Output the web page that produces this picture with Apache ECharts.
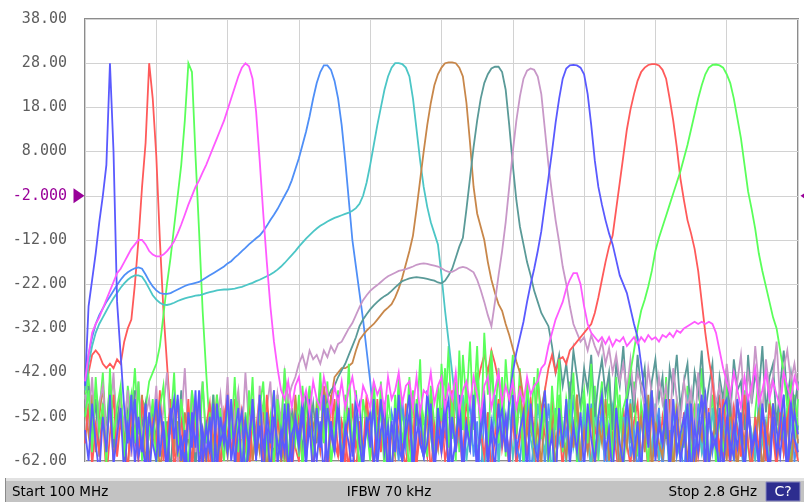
<!DOCTYPE html>
<html><head><meta charset="utf-8">
<script src="https://cdn.jsdelivr.net/npm/echarts@6/dist/echarts.min.js"></script>
<style>html,body{margin:0;padding:0;background:#fff}#c{width:804px;height:502px}</style>
</head><body><div id="c"></div>
<script>
const startMHz = 100, stopMHz = 2800, nPoints = 201;
const yMin = -62, yMax = 38, yStep = 10;
const refLevel = -2;
const statusTexts = { start: 'Start 100 MHz', ifbw: 'IFBW 70 kHz', stop: 'Stop 2.8 GHz', ch: 'C?' };
const traceColors = ['#5a5aff','#ff5a5a','#5aff5a','#ff5aff','#4f8ff7','#4cc6c6','#c8874a','#5a9a98','#c898c8','#5a5aff','#ff5a5a','#5aff5a'];
const traceLayer = [3,2,2,4,2,2,2,2,2,3,2,2];

const t1 = [
-45,-27,-21,-15,-8,-2,5,28,8,-26,-38,-50,-58,-47,-63,-52,-60,-49,-66,-55,
-48,-61,-53,-64,-50,-57,-47,-62,-55,-68,-51,-59,-46,-63,-54,-60,-49,-65,-52,-58,
-47,-62,-56,-50,-65,-53,-59,-48,-61,-54,-67,-51,-58,-46,-63,-55,-60,-49,-64,-52,
-57,-48,-62,-54,-66,-50,-59,-47,-63,-53,-60,-49,-65,-56,-51,-61,-47,-58,-64,-52,
-59,-48,-63,-55,-50,-66,-53,-60,-47,-62,-56,-51,-64,-49,-58,-61,-46,-55,-63,-50,
-57,-48,-65,-52,-60,-47,-62,-54,-59,-50,-66,-53,-48,-61,-56,-64,-49,-58,-52,-63,
-47,-60,-55,-51,-65,-49,-58,-62,-53,-46,-61,-56,-67,-50,-59,-48,-63,-54,-60,-51,
-64,-49,-57,-62,-52,-47,-60,-55,-66,-50,-58,-63,-48,-56,-61,-53,-65,-49,-59,-46,
-62,-54,-58,-50,-64,-48,-60,-56,-52,-67,-49,-61,-55,-47,-63,-51,-59,-57,-65,-50,
-48,-62,-54,-59,-51,-66,-47,-60,-56,-63,-50,-58,-64,-49,-55,-61,-52,-67,-48,-57,
-60];
const t2 = [
-46,-42,-38,-37,-38,-40,-41,-40,-41,-39,-40,-35,-32,-30,-22,-12,0,10,28,20,
7,-12,-28,-40,-52,-61,-48,-57,-64,-50,-55,-62,-47,-59,-53,-66,-49,-58,-63,-51,
-56,-60,-48,-65,-53,-58,-50,-62,-55,-47,-61,-57,-64,-52,-49,-60,-54,-66,-50,-59,
-62,-51,-56,-48,-63,-55,-60,-52,-65,-47,-58,-61,-53,-57,-64,-49,-59,-55,-62,-50,
-56,-63,-48,-60,-53,-58,-66,-51,-55,-62,-49,-59,-54,-64,-50,-57,-61,-47,-58,-52,
-60,-55,-63,-49,-57,-52,-61,-48,-56,-50,-45,-41,-38,-42,-37,-40,-44,-48,-55,-60,
-52,-63,-57,-49,-61,-54,-59,-66,-51,-56,-62,-48,-58,-53,-64,-50,-60,-55,-47,-62,
-57,-51,-65,-54,-59,-48,-62,-56,-52,-60,-67,-50,-58,-63,-53,-49,-61,-55,-64,-50,
-58,-62,-52,-57,-48,-65,-54,-60,-51,-63,-56,-49,-61,-55,-66,-50,-59,-53,-47,-62,
-55,-60,-50,-64,-53,-58,-48,-62,-56,-51,-65,-54,-59,-49,-61,-57,-52,-63,-50,-58,
-54];
const t3 = [
-48,-43,-55,-46,-51,-42,-57,-47,-44,-53,-49,-58,-45,-52,-41,-56,-48,-50,-44,-42,
-40,-36,-29,-22,-16,-9,-2,5,15,28,26,7,-10,-28,-42,-55,-47,-62,-50,-58,
-45,-60,-53,-48,-64,-51,-57,-43,-61,-54,-49,-66,-52,-46,-59,-55,-63,-47,-58,-50,
-61,-45,-56,-52,-64,-48,-59,-54,-44,-62,-57,-50,-65,-47,-53,-60,-46,-58,-63,-51,
-55,-49,-62,-44,-58,-53,-66,-47,-60,-51,-56,-43,-63,-48,-57,-52,-61,-45,-54,-59,
-40,-52,-36,-57,-44,-60,-38,-49,-35,-55,-42,-58,-33,-47,-37,-53,-41,-59,-39,-50,
-45,-56,-41,-61,-48,-54,-43,-62,-50,-46,-58,-52,-64,-47,-55,-60,-44,-57,-51,-63,
-48,-59,-53,-45,-62,-50,-56,-42,-60,-54,-47,-65,-52,-58,-44,-61,-49,-55,-63,-46,
-57,-51,-60,-43,-55,-64,-48,-53,-59,-45,-62,-50,-56,-41,-58,-54,-47,-63,-52,-60,
-44,-57,-61,-49,-54,-46,-59,-65,-51,-43,-56,-60,-48,-53,-62,-45,-58,-50,-64,-47,
-55];
const t4 = [
-44,-38,-33,-31,-29.5,-27.5,-25.5,-23.5,-21.5,-19.5,-18.5,-17,-15.5,-14,-13,-12,-12,-13,-14.5,-15.3,
-15.7,-15.7,-15.3,-14.5,-13.5,-12.3,-10.5,-8.5,-6.3,-4,-2,0,1.5,3.3,5,7,9,11,13,15,
17.5,20,22.5,25,27,28,27.3,24.5,17,6,-6,-17,-27,-35,-41,-46,-48,-44,-50,-45,
-43,-49,-46,-51,-44,-48,-50,-43,-47,-51,-45,-49,-44,-50,-46,-43,-48,-51,-45,-47,
-50,-44,-47,-45,-51,-43,-48,-46,-42,-49,-45,-44,-50,-43,-51,-46,-47,-42,-49,-45,
-43,-50,-45,-48,-42,-51,-46,-44,-49,-43,-47,-52,-45,-43,-50,-46,-42,-49,-45,-48,
-44,-50,-46,-49,-43,-47,-45,-44,-41,-40,-36,-33,-30,-28,-26,-23,-21,-19.5,-19.5,-22,
-27,-31,-33,-34,-35,-34,-35.5,-34,-36,-34.5,-35,-34,-36,-35,-34,-35.5,-34,-35,-33.5,-34.5,
-34,-35,-33.5,-34,-33,-34,-32.5,-33,-32,-31.5,-31,-30.5,-31,-30.5,-31,-30.5,-31,-33,-37,-41,
-44,-47,-42,-46,-50,-43,-48,-45,-41,-49,-46,-42,-48,-44,-47,-50,-42,-45,-48,-43,
-46];
const t5 = [
-44,-38,-34,-31,-29,-27.5,-26,-24.8,-23.5,-22.2,-21,-20,-19.3,-18.8,-18.4,-18.2,-18.5,-19.8,-21.3,-22.5,
-23.4,-24,-24.2,-24.2,-24,-23.6,-23.2,-22.8,-22.4,-22.1,-21.9,-21.7,-21.5,-21,-20.5,-20,-19.5,-19,-18.5,-18,
-17.3,-16.8,-16,-15.3,-14.5,-13.8,-13,-12.3,-11.6,-11,-10,-8.8,-7.5,-6.3,-5,-3.5,-2,-0.5,1.5,4,
6.5,9.5,12.5,16,20,23.5,26,27.5,27.5,26.5,24,20,14,6,-3,-12,-18,-24,-30,-37,
-44,-52,-60,-49,-57,-64,-51,-55,-62,-48,-59,-53,-66,-50,-58,-61,-47,-56,-63,-52,
-59,-49,-65,-54,-58,-50,-62,-56,-48,-61,-53,-67,-51,-57,-63,-49,-60,-55,-52,-64,
-50,-58,-62,-53,-48,-66,-56,-60,-51,-63,-49,-57,-64,-52,-59,-55,-61,-47,-58,-65,
-53,-60,-49,-62,-56,-51,-67,-54,-58,-50,-63,-57,-48,-61,-55,-65,-52,-59,-49,-62,
-56,-50,-64,-53,-59,-48,-61,-57,-66,-52,-55,-62,-49,-58,-63,-51,-60,-54,-65,-50,
-59,-53,-62,-48,-57,-64,-51,-56,-61,-49,-66,-54,-58,-52,-63,-50,-60,-55,-47,-62,
-57];
const t6 = [
-46,-40,-36,-33,-31,-29.5,-28,-26.5,-25.2,-24,-22.8,-21.8,-21,-20.4,-20,-20,-20.3,-21.5,-23,-24.5,
-25.5,-26.2,-26.6,-26.7,-26.5,-26.2,-25.8,-25.5,-25.2,-25,-24.8,-24.6,-24.5,-24.3,-24,-23.8,-23.6,-23.4,-23.3,-23.2,
-23.2,-23.1,-23,-22.8,-22.6,-22.3,-22,-21.7,-21.3,-21,-20.6,-20.2,-19.8,-19.3,-18.7,-18,-17.2,-16.3,-15.4,-14.5,
-13.5,-12.6,-11.7,-10.9,-10.1,-9.4,-8.8,-8.3,-7.8,-7.4,-7,-6.7,-6.4,-6.1,-5.8,-5.4,-4.8,-3.8,-2,1,
5,9.5,14,18,22,25,27,28,28,27.8,27,25,20,13,6,0,-4.5,-8,-10.5,-13,
-20,-28,-35,-42,-50,-58,-47,-62,-54,-49,-60,-56,-65,-51,-58,-47,-63,-53,-59,-50,
-61,-55,-48,-64,-52,-57,-62,-49,-56,-60,-53,-66,-50,-58,-54,-63,-47,-59,-55,-61,
-51,-57,-64,-49,-60,-54,-58,-62,-50,-56,-65,-52,-59,-48,-61,-55,-63,-51,-57,-60,
-49,-62,-56,-53,-66,-50,-58,-61,-54,-47,-63,-57,-52,-60,-55,-64,-50,-58,-62,-53,
-57,-49,-61,-54,-59,-65,-51,-56,-62,-48,-58,-53,-64,-50,-60,-55,-47,-63,-52,-58,
-54];
const t7 = [
-50,-56,-47,-60,-52,-45,-58,-49,-62,-53,-48,-57,-64,-51,-55,-60,-47,-63,-54,-58,
-50,-65,-56,-61,-48,-59,-53,-66,-51,-57,-62,-49,-60,-55,-64,-52,-58,-47,-63,-56,
-61,-50,-57,-65,-53,-59,-48,-62,-55,-60,-51,-66,-54,-58,-49,-63,-56,-52,-61,-47,
-57,-53,-60,-46,-55,-50,-58,-45,-52,-48,-43,-42,-41,-41,-40.5,-39.8,-37,-34.6,-33.5,-32.5,
-31.7,-31,-30,-29,-28,-27.3,-26.5,-25,-23,-20.5,-17.5,-14.5,-11,-5,1.5,8,14,19,23,25.5,
27,28,28.2,28.2,28,27,25,19,10,0,-6,-9,-12,-17,-21,-24,-26.5,-28,-31,-33.5,
-36.5,-39.5,-42,-48,-56,-51,-60,-54,-63,-49,-58,-53,-65,-50,-57,-61,-52,-59,-47,-62,
-55,-60,-50,-64,-53,-58,-48,-62,-56,-51,-66,-54,-59,-49,-63,-57,-52,-60,-47,-65,
-53,-58,-61,-50,-56,-64,-49,-59,-55,-62,-51,-67,-54,-57,-48,-63,-58,-52,-60,-55,
-62,-50,-57,-64,-53,-59,-48,-61,-56,-51,-65,-54,-58,-49,-63,-55,-60,-52,-66,-50,
-58];
const t8 = [
-52,-45,-58,-48,-61,-50,-55,-44,-59,-53,-47,-62,-51,-56,-46,-60,-54,-49,-63,-52,
-57,-48,-61,-53,-65,-50,-58,-46,-62,-55,-51,-64,-49,-59,-54,-60,-47,-63,-56,-52,
-60,-49,-57,-64,-51,-55,-62,-48,-58,-53,-66,-50,-56,-61,-47,-59,-54,-63,-50,-57,
-52,-60,-47,-55,-49,-58,-44,-53,-48,-46,-45,-43,-41.5,-40,-38,-36,-34,-31.5,-30,-28.8,
-27.7,-26.8,-26,-25.3,-24.7,-24.2,-23.5,-22.7,-22,-21.3,-21,-20.7,-20.5,-20.4,-20.5,-20.6,-20.8,-21,-21.2,-21.6,
-21.8,-21.2,-20,-18.5,-16,-13.5,-11.5,-5,2,9,15,20,23.5,25.5,26.8,27.2,27.2,26,22,14,
5,-3,-9,-13,-17,-20,-23.5,-26,-28.5,-30,-31.5,-36,-42,-38,-45,-40,-48,-37,-43,-50,
-41,-46,-38,-52,-44,-39,-47,-42,-55,-40,-45,-36,-49,-43,-51,-38,-46,-41,-54,-44,
-39,-48,-43,-57,-41,-46,-38,-50,-44,-40,-53,-42,-47,-37,-51,-45,-40,-56,-43,-48,
-41,-52,-39,-46,-44,-55,-38,-49,-42,-47,-36,-51,-43,-40,-54,-45,-37,-48,-42,-50,
-44];
const t9 = [
-47,-53,-43,-58,-49,-45,-56,-51,-42,-60,-48,-54,-46,-61,-50,-44,-57,-52,-48,-55,
-45,-59,-50,-42,-56,-48,-63,-53,-41,-57,-46,-60,-51,-44,-58,-49,-62,-54,-47,-55,
-43,-60,-51,-46,-57,-42,-54,-49,-61,-45,-56,-50,-44,-59,-47,-53,-42,-48,-45,-43,
-40,-38,-41,-37,-39,-38,-40,-37,-38.5,-36,-37.5,-35.5,-35,-33.5,-32,-30.8,-29,-27.2,-25.6,-24.5,
-23.5,-22.8,-22.2,-21.5,-20.8,-20.2,-19.8,-19.4,-19,-18.8,-18.6,-18.3,-18,-17.6,-17.4,-17.3,-17.4,-17.6,-17.8,-18,
-18.4,-18.9,-19.2,-19.2,-18.8,-18.3,-18.1,-18.3,-18.8,-19.3,-21,-23.3,-26,-29,-31.5,-26,-20,-14.5,-8,0,
8,15,20.5,24.5,26.3,26.8,26.5,25,21,13,5,-1.5,-7.5,-12.5,-18,-22,-27,-31,-33,-35,
-34,-37,-33.5,-36,-38,-35,-40,-36.5,-42,-38,-44,-40,-46,-39,-48,-42,-45,-50,-41,-47,
-52,-43,-49,-45,-55,-41,-48,-53,-44,-50,-46,-57,-42,-51,-47,-54,-43,-49,-45,-52,
-40,-47,-53,-44,-38,-50,-42,-48,-36,-45,-51,-39,-46,-43,-35,-49,-41,-37,-44,-40,
-46];
const t10 = [
-55,-62,-49,-58,-65,-52,-60,-47,-63,-56,-50,-66,-54,-59,-48,-61,-57,-64,-51,-58,
-62,-50,-56,-65,-53,-48,-60,-57,-63,-51,-59,-46,-64,-55,-61,-52,-67,-49,-58,-54,
-60,-48,-63,-55,-51,-66,-57,-50,-62,-47,-59,-54,-65,-52,-58,-61,-49,-64,-56,-53,
-59,-51,-64,-48,-57,-62,-53,-66,-50,-56,-60,-47,-63,-54,-58,-65,-52,-49,-61,-55,
-51,-63,-57,-48,-60,-54,-66,-50,-59,-62,-53,-47,-64,-56,-52,-61,-58,-49,-65,-55,
-60,-52,-48,-63,-57,-51,-66,-54,-59,-47,-62,-56,-50,-64,-53,-58,-55,-50,-60,-48,
-42,-37.5,-34,-30.5,-26,-22,-18.5,-14.5,-10,-4,2,8,14.5,20,24.5,26.8,27.5,27.6,27.5,27,
25.5,21,14,6,0,-4,-7.5,-10.5,-13,-16.5,-20,-22,-24,-27.5,-31,-34,-40,-47,-55,-50,
-61,-53,-58,-48,-64,-55,-51,-62,-57,-49,-66,-54,-60,-52,-47,-63,-56,-59,-50,-65,
-53,-58,-61,-48,-56,-64,-51,-59,-55,-62,-49,-57,-66,-52,-60,-54,-47,-63,-58,-51,
-56];
const t11 = [
-58,-49,-63,-54,-60,-51,-66,-56,-47,-61,-53,-59,-64,-50,-57,-62,-48,-55,-65,-52,
-59,-46,-62,-55,-50,-64,-57,-53,-60,-48,-66,-51,-58,-63,-54,-49,-61,-56,-65,-52,
-48,-60,-55,-63,-51,-57,-66,-50,-59,-54,-62,-47,-58,-64,-53,-56,-61,-49,-65,-55,
-52,-62,-57,-49,-64,-54,-59,-51,-66,-56,-48,-61,-55,-63,-50,-58,-65,-53,-60,-47,
-57,-63,-52,-59,-49,-66,-55,-61,-50,-58,-64,-53,-47,-62,-56,-60,-51,-65,-54,-59,
-50,-62,-57,-46,-60,-54,-65,-52,-58,-49,-63,-55,-61,-51,-66,-56,-48,-59,-53,-64,
-50,-57,-45,-60,-53,-48,-56,-44,-51,-46,-41,-38,-42,-39,-38.5,-40,-37,-36,-35,-34,
-33,-32,-31,-28.5,-25,-21,-17,-13.5,-11,-5,1,7,13,17.5,21,24,26,27,27.6,27.8,
27.8,27.5,26.5,24.5,20,15,9,2,-3,-7.5,-10.5,-14,-19,-26,-33,-39,-44,-52,-60,-48,
-57,-63,-50,-55,-61,-47,-58,-65,-52,-59,-54,-62,-49,-56,-64,-51,-60,-53,-45,-58,
-62];
const t12 = [
-52,-46,-60,-43,-55,-49,-63,-41,-57,-50,-45,-61,-53,-47,-58,-44,-62,-51,-56,-48,
-64,-50,-45,-59,-54,-42,-61,-48,-56,-63,-46,-53,-60,-44,-58,-51,-65,-47,-55,-62,
-49,-57,-43,-60,-52,-66,-46,-55,-61,-50,-44,-59,-54,-63,-48,-56,-41,-62,-53,-58,
-47,-64,-51,-45,-60,-55,-42,-58,-49,-63,-53,-46,-61,-56,-40,-59,-52,-65,-48,-54,
-62,-44,-57,-50,-64,-47,-55,-60,-43,-58,-52,-66,-46,-54,-39,-61,-49,-56,-63,-45,
-53,-41,-59,-48,-62,-37,-55,-44,-60,-50,-36,-57,-46,-63,-40,-52,-58,-43,-61,-49,
-38,-56,-47,-62,-44,-53,-59,-41,-57,-50,-64,-45,-55,-39,-60,-48,-54,-42,-63,-51,
-46,-58,-40,-61,-52,-44,-57,-49,-63,-43,-55,-50,-47,-42,-37,-32,-28,-25.5,-22.5,-19,
-14.5,-11.5,-9,-6.5,-4,-1.5,1,3.5,6.5,9.5,13,16.5,20,23,25.5,27,27.6,27.7,27.5,27,
25.5,23.5,20,15.5,11,5,-1,-5,-9.5,-15,-19,-22.5,-26,-29.5,-32,-37,-42,-50,-45,-57,
-48];

const traces = [t1,t2,t3,t4,t5,t6,t7,t8,t9,t10,t11,t12];
const freqAt = i => startMHz + (stopMHz - startMHz) * i / (nPoints - 1);

const chart = echarts.init(document.getElementById('c'), null, {renderer: 'canvas'});
const markerColor = '#990099';

const series = traces.map((arr, k) => ({
  type: 'line',
  data: arr.map((v, i) => [freqAt(i), v]),
  showSymbol: false,
  symbol: 'none',
  clip: true,
  silent: true,
  animation: false,
  lineStyle: { width: 1.8, color: traceColors[k], join: 'miter', cap: 'butt' },
  itemStyle: { color: traceColors[k] },
  emphasis: { disabled: true },
  z: traceLayer[k]
}));
series[0].markPoint = {
  silent: true,
  animation: false,
  label: { show: false },
  itemStyle: { color: markerColor },
  data: [
    { coord: [startMHz, refLevel], symbol: 'triangle', symbolSize: [15, 11], symbolRotate: -90, symbolOffset: [-6, 0] },
    { coord: [stopMHz, refLevel], symbol: 'triangle', symbolSize: [15, 11], symbolRotate: 90, symbolOffset: [8, 0] }
  ]
};

const barFont = '13.5px "DejaVu Sans"';
chart.setOption({
  animation: false,
  backgroundColor: '#ffffff',
  grid: { left: 85, top: 19, right: 6, bottom: 41, show: true, borderColor: '#8c8c8c', borderWidth: 2, backgroundColor: 'transparent' },
  xAxis: {
    type: 'value', min: startMHz, max: stopMHz, interval: (stopMHz - startMHz) / 10,
    axisLabel: { show: false }, axisLine: { show: false }, axisTick: { show: false },
    splitLine: { show: true, lineStyle: { color: '#d2d2d2', width: 1 } }
  },
  yAxis: {
    type: 'value', min: yMin, max: yMax, interval: yStep,
    axisLine: { show: false }, axisTick: { show: false },
    splitLine: { show: true, lineStyle: { color: '#d2d2d2', width: 1 } },
    axisLabel: {
      margin: 18, color: '#5e5e5e', fontFamily: '"DejaVu Sans Mono"', fontSize: 15,
      formatter: v => {
        const s = Number(v).toPrecision(4);
        return v === refLevel ? '{p|' + s + '}' : s;
      },
      rich: { p: { color: markerColor, fontFamily: '"DejaVu Sans Mono"', fontSize: 15 } }
    }
  },
  series: series,
  graphic: [
    { type: 'rect', shape: { x: 5, y: 478, width: 799, height: 24 }, style: { fill: '#c3c3c3' }, z: 10 },
    { type: 'rect', shape: { x: 5, y: 478, width: 799, height: 3 }, style: { fill: '#e2e2e2' }, z: 11 },
    { type: 'rect', shape: { x: 5, y: 478, width: 1, height: 24 }, style: { fill: '#8a8a8a' }, z: 11 },
    { type: 'text', x: 12, y: 492, style: { text: statusTexts.start, font: barFont, fill: '#000', align: 'left', verticalAlign: 'middle' }, z: 12 },
    { type: 'text', x: 389, y: 492, style: { text: statusTexts.ifbw, font: barFont, fill: '#000', align: 'center', verticalAlign: 'middle' }, z: 12 },
    { type: 'text', x: 757, y: 492, style: { text: statusTexts.stop, font: barFont, fill: '#000', align: 'right', verticalAlign: 'middle' }, z: 12 },
    { type: 'rect', shape: { x: 766, y: 482, width: 34, height: 19 }, style: { fill: '#2d2d8f', stroke: '#8a8ac0', lineWidth: 1 }, z: 12 },
    { type: 'text', x: 783, y: 492, style: { text: statusTexts.ch, font: '14px "DejaVu Sans"', fill: '#ffffff', align: 'center', verticalAlign: 'middle' }, z: 13 }
  ]
});
</script>
</body></html>
